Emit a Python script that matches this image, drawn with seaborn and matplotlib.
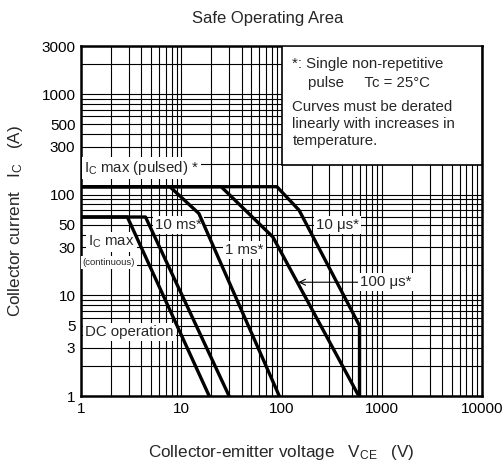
import numpy as np
import pandas as pd
import matplotlib
matplotlib.use("Agg")
import matplotlib.pyplot as plt
from matplotlib.patches import Rectangle
from matplotlib.ticker import FixedLocator, FixedFormatter, LogLocator, NullFormatter
import seaborn as sns

# ---- data ----
dc_v = [1, 2.9, 19]
dc_i = [60, 60, 1]
ms10_v = [1, 4.4, 30]
ms10_i = [60, 60, 1]
ms1_v = [1, 7.7, 15, 95]
ms1_i = [120, 120, 65, 1]
us100_v = [1, 25, 82, 590]
us100_i = [120, 120, 38, 1]
us10_v = [1, 90, 150, 600, 600]
us10_i = [120, 120, 70, 5, 1]

x_ticks = [1, 10, 100, 1000, 10000]
x_labels = ["1", "10", "100", "1000", "10000"]
y_ticks = [1, 3, 5, 10, 30, 50, 100, 300, 500, 1000, 3000]
y_labels = ["1", "3", "5", "10", "30", "50", "100", "300", "500", "1000", "3000"]

frames = []
for name, v, i in [("DC", dc_v, dc_i), ("10ms", ms10_v, ms10_i), ("1ms", ms1_v, ms1_i),
                   ("100us", us100_v, us100_i), ("10us", us10_v, us10_i)]:
    frames.append(pd.DataFrame({"curve": name, "V": v, "I": i}))
df = pd.concat(frames, ignore_index=True)

sns.set_style("white")
plt.rcParams['font.family'] = ['Liberation Sans', 'DejaVu Sans']
plt.rcParams['mathtext.default'] = 'regular'

fig = plt.figure(figsize=(5.03, 4.61), dpi=100)
ax = fig.add_axes([81/503, 1-396/461, 401/503, 350/461])
ax.set_xscale('log')
ax.set_yscale('log')
ax.set_xlim(1, 10000)
ax.set_ylim(1, 3000)

sns.lineplot(data=df, x="V", y="I", units="curve", estimator=None, sort=False,
             color="black", linewidth=2.4, ax=ax, zorder=5)

ax.xaxis.set_major_locator(FixedLocator(x_ticks))
ax.xaxis.set_major_formatter(FixedFormatter(x_labels))
ax.xaxis.set_minor_locator(LogLocator(base=10, subs=np.arange(2, 10)))
ax.xaxis.set_minor_formatter(NullFormatter())
ax.yaxis.set_major_locator(FixedLocator(y_ticks))
ax.yaxis.set_major_formatter(FixedFormatter(y_labels))
ax.yaxis.set_minor_locator(LogLocator(base=10, subs=np.arange(1, 10)))
ax.yaxis.set_minor_formatter(NullFormatter())
ax.grid(True, which='both', color='black', linewidth=0.8)
ax.set_axisbelow(True)
ax.tick_params(which='both', length=0, labelsize=11, pad=4, colors='black')
for s in ax.spines.values():
    s.set_visible(True)
    s.set_color('black')
    s.set_linewidth(1.8)

ax.set_xlabel(r"Collector-emitter voltage   V$_{CE}$   (V)", fontsize=12.3, labelpad=20)
ax.set_ylabel(r"Collector current   I$_{C}$   (A)", fontsize=12.3, labelpad=12)
fig.text(268/503, 1-18/461, "Safe Operating Area", fontsize=12, ha='center', va='center')

# note box
ax.add_patch(Rectangle((0.501, 0.66), 0.499, 0.34, transform=ax.transAxes,
                       facecolor='white', edgecolor='black', linewidth=1.2, zorder=6))
fs = 10.8
ax.text(0.527, 0.948, "*: Single non-repetitive", transform=ax.transAxes, fontsize=fs, va='center', zorder=7)
ax.text(0.567, 0.895, "pulse     Tc = 25°C", transform=ax.transAxes, fontsize=fs, va='center', zorder=7)
ax.text(0.527, 0.826, "Curves must be derated", transform=ax.transAxes, fontsize=fs, va='center', zorder=7)
ax.text(0.527, 0.778, "linearly with increases in", transform=ax.transAxes, fontsize=fs, va='center', zorder=7)
ax.text(0.527, 0.729, "temperature.", transform=ax.transAxes, fontsize=fs, va='center', zorder=7)

wb = dict(facecolor='white', edgecolor='none', pad=1.5)
ax.text(1.08, 183, r"I$_{C}$ max (pulsed) *", fontsize=fs, va='center', bbox=wb, zorder=3)
ax.text(5.5, 50, "10 ms*", fontsize=fs, va='center', bbox=wb, zorder=3)
ax.text(27.5, 28, "1 ms*", fontsize=fs, va='center', bbox=wb, zorder=3)
ax.text(222, 50, "10 μs*", fontsize=fs, va='center', bbox=wb, zorder=3)
ax.annotate("100 μs*", xy=(147, 13.5), xytext=(610, 13.5), fontsize=fs, va='center',
            bbox=wb, zorder=3,
            arrowprops=dict(arrowstyle='->', color='black', lw=0.8, shrinkA=0, shrinkB=0))
ax.text(1.17, 34, r"I$_{C}$ max", fontsize=fs, va='center', bbox=wb, zorder=3)
ax.text(1.04, 21, "(continuous)", fontsize=6.8, va='center', bbox=wb, zorder=3)
ax.text(1.1, 4.3, "DC operation", fontsize=fs, va='center', bbox=wb, zorder=3)

fig.savefig("out.png", dpi=100, facecolor='white')
